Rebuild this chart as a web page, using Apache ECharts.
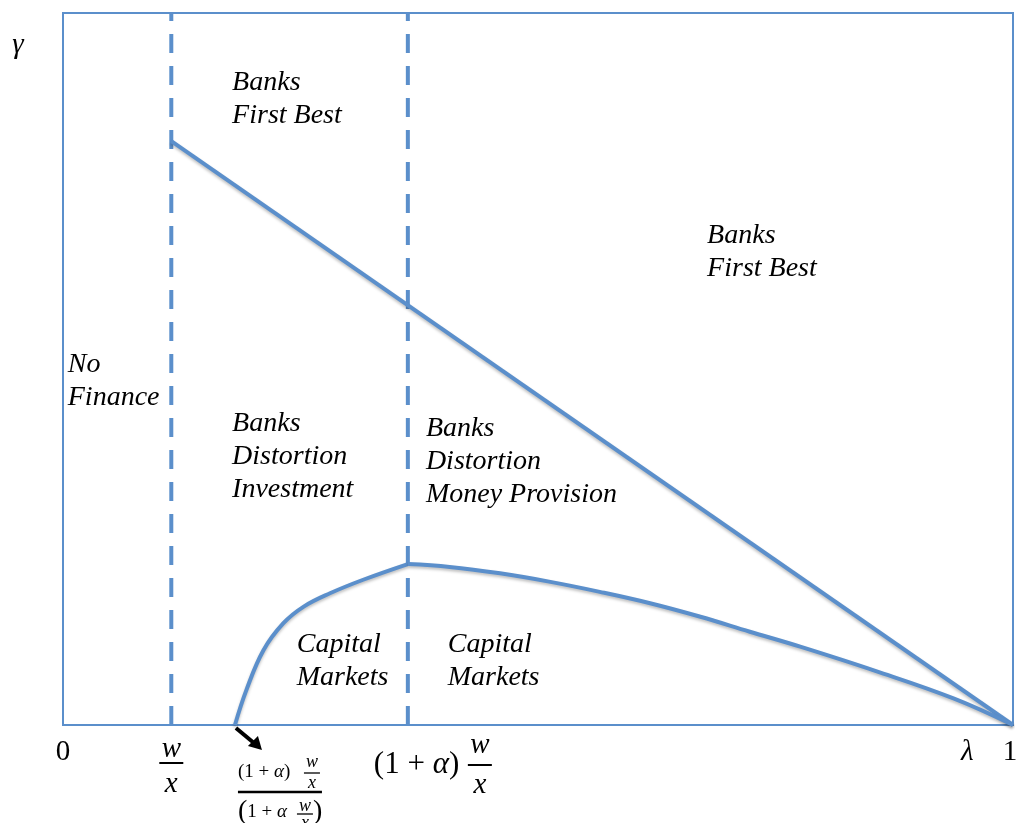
<!DOCTYPE html>
<html>
<head>
<meta charset="utf-8">
<script src="https://cdn.jsdelivr.net/npm/echarts@6/dist/echarts.min.js"></script>
<style>
  html, body { margin: 0; padding: 0; background: #fff; }
  #main { width: 1017px; height: 823px; }
</style>
</head>
<body>
<div id="main"></div>
<script>
  // thresholds on lambda: w/x , (1+a)w/x
  var boundaryX = [0.114, 0.363];
  // upper line (banks first best / distortion)
  var upperX = [0.114, 1];
  var upperY = [0.82, 0];
  // capital markets frontier, left part and right part
  var cmLeftX = [0.181, 0.193, 0.211, 0.232, 0.253, 0.281, 0.316, 0.363];
  var cmLeftY = [0, 0.049, 0.105, 0.143, 0.166, 0.185, 0.204, 0.226];
  var cmRightX = [0.363, 0.407, 0.460, 0.513, 0.565, 0.618, 0.671, 0.723, 0.776, 0.855, 0.938, 1];
  var cmRightY = [0.226, 0.222, 0.213, 0.201, 0.187, 0.171, 0.152, 0.131, 0.110, 0.076, 0.037, 0];
  // region names and where they sit (top-left corner, in lambda/gamma units)
  var regionText = ['Banks\nFirst Best', 'Banks\nFirst Best', 'No\nFinance',
    'Banks\nDistortion\nInvestment', 'Banks\nDistortion\nMoney Provision',
    'Capital\nMarkets', 'Capital\nMarkets'];
  var regionX = [0.178, 0.678, 0.005, 0.178, 0.382, 0.246, 0.405];
  var regionY = [0.926, 0.711, 0.529, 0.446, 0.440, 0.1355, 0.1355];
  // tick positions on the lambda axis
  var tickX = [0, 0.114, 0.181, 0.363, 0.952, 1];

  var blue = '#5b8fcb';
  var myChart = echarts.init(document.getElementById('main'));

  function zip(a, b) {
    var out = [];
    for (var i = 0; i < a.length; i++) out.push([a[i], b[i]]);
    return out;
  }

  var shadow = { shadowColor: 'rgba(0,0,0,0.25)', shadowBlur: 3, shadowOffsetY: 2 };
  function lineSeries(data, smooth) {
    return {
      type: 'line', data: data, symbol: 'none', smooth: smooth, clip: false,
      lineStyle: Object.assign({ color: blue, width: 4 }, shadow)
    };
  }

  var series = [];
  boundaryX.forEach(function (x) {
    series.push({
      type: 'line', data: [[x, 0], [x, 1]], symbol: 'none',
      lineStyle: { color: blue, width: 4, type: [19, 13] }
    });
  });
  series.push(lineSeries(zip(upperX, upperY), false));
  series.push(lineSeries(zip(cmLeftX, cmLeftY), 0.4));
  series.push(lineSeries(zip(cmRightX, cmRightY), 0.4));
  series.push({
    type: 'scatter', symbolSize: 0, silent: true,
    itemStyle: { opacity: 1 },
    data: zip(regionX, regionY).map(function (p, i) { return { value: p, name: regionText[i] }; }),
    label: {
      show: true, position: [0, 0], align: 'left', verticalAlign: 'top',
      formatter: function (p) { return p.name; },
      fontFamily: 'Liberation Serif', fontStyle: 'italic', fontSize: 28,
      lineHeight: 33, color: '#000', opacity: 1
    }
  });

  var option = {
    animation: false,
    grid: { left: 63, top: 13, right: 4, bottom: 98, show: true, borderColor: blue, borderWidth: 2 },
    xAxis: { type: 'value', min: 0, max: 1, axisLine: { show: false }, axisTick: { show: false },
      axisLabel: { show: false }, splitLine: { show: false } },
    yAxis: { type: 'value', min: 0, max: 1, axisLine: { show: false }, axisTick: { show: false },
      axisLabel: { show: false }, splitLine: { show: false } },
    series: series
  };
  myChart.setOption(option);

  // math tick labels under the lambda axis
  var F = 'Liberation Serif';
  function txt(s, x, y, size, italic, align) {
    return { type: 'text', x: x, y: y, silent: true,
      style: { text: s, font: (italic ? 'italic ' : '') + size + 'px "' + F + '"',
        fill: '#000', align: align || 'center', verticalAlign: 'middle' } };
  }
  function bar(x1, x2, y, w) {
    return { type: 'line', silent: true, shape: { x1: x1, y1: y, x2: x2, y2: y },
      style: { stroke: '#000', lineWidth: w || 2 } };
  }
  function frac(cx, yNum, yBar, yDen, half, size) {
    return [txt('w', cx, yNum, size, true), bar(cx - half, cx + half, yBar, size > 20 ? 2 : 1.3),
      txt('x', cx, yDen, size, true)];
  }
  function onePlusA(xLeft, y, size) {
    return { type: 'text', x: xLeft, y: y, silent: true,
      style: { text: '{u|(1 + }{i|α}{u|)}', align: 'left', verticalAlign: 'middle',
        rich: { u: { fontFamily: F, fontSize: size, fill: '#000' },
                i: { fontFamily: F, fontSize: size, fontStyle: 'italic', fill: '#000' } } } };
  }

  var g = [];
  var base = myChart.convertToPixel({ gridIndex: 0 }, [0, 0]);
  var by = base[1];
  var t = tickX.map(function (x) { return myChart.convertToPixel({ gridIndex: 0 }, [x, 0])[0]; });

  g.push(txt('0', t[0], by + 27, 29, false));
  g = g.concat(frac(t[1], by + 24, by + 38, by + 59, 12, 29));
  // small label at capital-market threshold
  var c = t[2];
  g.push(onePlusA(c + 3, by + 47, 19));
  g = g.concat(frac(c + 77, by + 37, by + 48, by + 58, 8, 18));
  g.push(bar(c + 3, c + 87, by + 67, 2.5));
  g.push({ type: 'text', x: c + 3, y: by + 87, silent: true,
    style: { text: '{p|(}{u|1 + }{i|α}', align: 'left', verticalAlign: 'middle',
      rich: { p: { fontFamily: F, fontSize: 28, fill: '#000' },
              u: { fontFamily: F, fontSize: 19, fill: '#000' },
              i: { fontFamily: F, fontSize: 19, fontStyle: 'italic', fill: '#000' } } } });
  g = g.concat(frac(c + 70, by + 81, by + 89, by + 98, 8, 18));
  g.push(txt(')', c + 78, by + 87, 28, false, 'left'));
  // arrow pointing at the threshold
  g.push({ type: 'line', silent: true, shape: { x1: c + 1, y1: by + 3, x2: c + 19, y2: by + 18 },
    style: { stroke: '#000', lineWidth: 4 } });
  g.push({ type: 'polygon', silent: true,
    shape: { points: [[c + 27, by + 25], [c + 13, by + 21], [c + 23, by + 11]] },
    style: { fill: '#000' } });

  g.push(onePlusA(t[3] - 34, by + 40, 31));
  g = g.concat(frac(t[3] + 72, by + 20, by + 40, by + 60, 12, 29));
  g.push(txt('λ', t[4], by + 27, 29, true));
  g.push(txt('1', t[5] - 3, by + 27, 29, false));
  g.push(txt('γ', 18, 45, 29, true));

  myChart.setOption({ graphic: g });
</script>
</body>
</html>
